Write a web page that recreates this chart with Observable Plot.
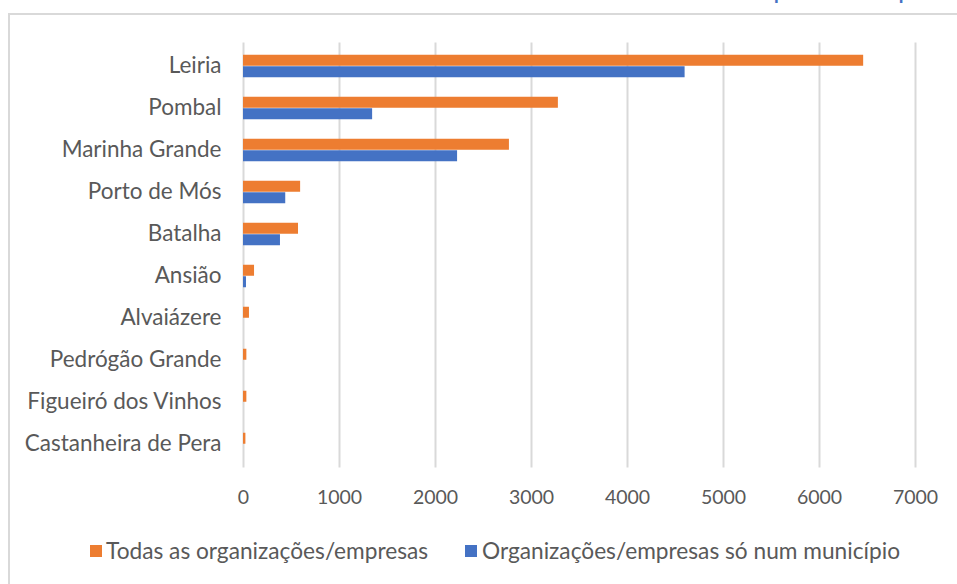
<!DOCTYPE html>
<html>
<head>
<meta charset="utf-8">
<script src="https://cdn.jsdelivr.net/npm/d3@7"></script>
<script src="https://cdn.jsdelivr.net/npm/@observablehq/plot@0.6"></script>
<style>
  html, body { margin: 0; padding: 0; background: #fff; }
  #wrap { position: relative; width: 957px; height: 584px; overflow: hidden; font-family: Lato, "Open Sans", sans-serif; }
  #title { position: absolute; top: -26px; right: 22px; font-size: 27px; line-height: 27px; color: #4472c4; white-space: nowrap; }
  #frame { position: absolute; left: 8px; top: 13px; width: 1200px; height: 800px; border: 2px solid #d9d9d9; box-sizing: border-box; }
  #chart { position: absolute; left: 0; top: 0; }
  #legend { position: absolute; top: 538px; left: 0; width: 957px; height: 26px; font-size: 22.7px; color: #595959; }
  .sw { position: absolute; top: 7px; width: 12px; height: 12px; }
  .lt { position: absolute; top: 0; line-height: 26px; white-space: nowrap; }
</style>
</head>
<body>
<div id="wrap">
  <div id="title"></div>
  <div id="frame"></div>
  <div id="chart"></div>
  <div id="legend"></div>
</div>
<script>
const municipios = ["Leiria", "Pombal", "Marinha Grande", "Porto de Mós", "Batalha", "Ansião", "Alvaiázere", "Pedrógão Grande", "Figueiró dos Vinhos", "Castanheira de Pera"];
const todasOrganizacoes = [6460, 3280, 2770, 595, 573, 115, 62, 35, 35, 25];
const soNumMunicipio = [4600, 1345, 2230, 440, 385, 31, 0, 0, 0, 0];
const xTicks = [0, 1000, 2000, 3000, 4000, 5000, 6000, 7000];
const seriesNames = ["Todas as organizações/empresas", "Organizações/empresas só num município"];
const seriesColors = ["#ed7d31", "#4472c4"];
const titleText = "Gráfico 1 – Número de entidades por município";

const data = municipios.map((m, i) => ({m, todas: todasOrganizacoes[i], so: soNumMunicipio[i]}));

document.getElementById("title").textContent = titleText;

const step = 425 / municipios.length;
const half = step / 2;
const barH = 11.5;

const chart = Plot.plot({
  width: 957,
  height: 520,
  marginLeft: 243,
  marginRight: 42,
  marginTop: 42.5,
  marginBottom: 52.5,
  style: {fontFamily: "Lato, 'Open Sans', sans-serif", fontSize: "19px", color: "#595959", background: "transparent", overflow: "visible"},
  x: {domain: [0, 7000], label: null},
  y: {domain: municipios, padding: 0, label: null},
  marks: [
    Plot.gridX(xTicks, {stroke: "#d9d9d9", strokeWidth: 2, strokeOpacity: 1}),
    Plot.barX(data, {x: "todas", y: "m", fill: seriesColors[0], insetTop: half - barH, insetBottom: half}),
    Plot.barX(data, {x: "so", y: "m", fill: seriesColors[1], insetTop: half, insetBottom: half - barH}),
    Plot.axisX(xTicks, {tickSize: 0, tickPadding: 22, tickFormat: d => String(d), fill: "#595959", fontSize: 19.5, label: null}),
    Plot.axisY({tickSize: 0, tickPadding: 22, fill: "#595959", fontSize: 22.5, label: null, dy: -1})
  ]
});
document.getElementById("chart").appendChild(chart);

const legend = document.getElementById("legend");
const swX = [90, 465];
const txX = [106, 482];
seriesNames.forEach((name, i) => {
  const sw = document.createElement("div");
  sw.className = "sw";
  sw.style.left = swX[i] + "px";
  sw.style.background = seriesColors[i];
  legend.appendChild(sw);
  const t = document.createElement("div");
  t.className = "lt";
  t.style.left = txX[i] + "px";
  t.textContent = name;
  legend.appendChild(t);
});
</script>
</body>
</html>
